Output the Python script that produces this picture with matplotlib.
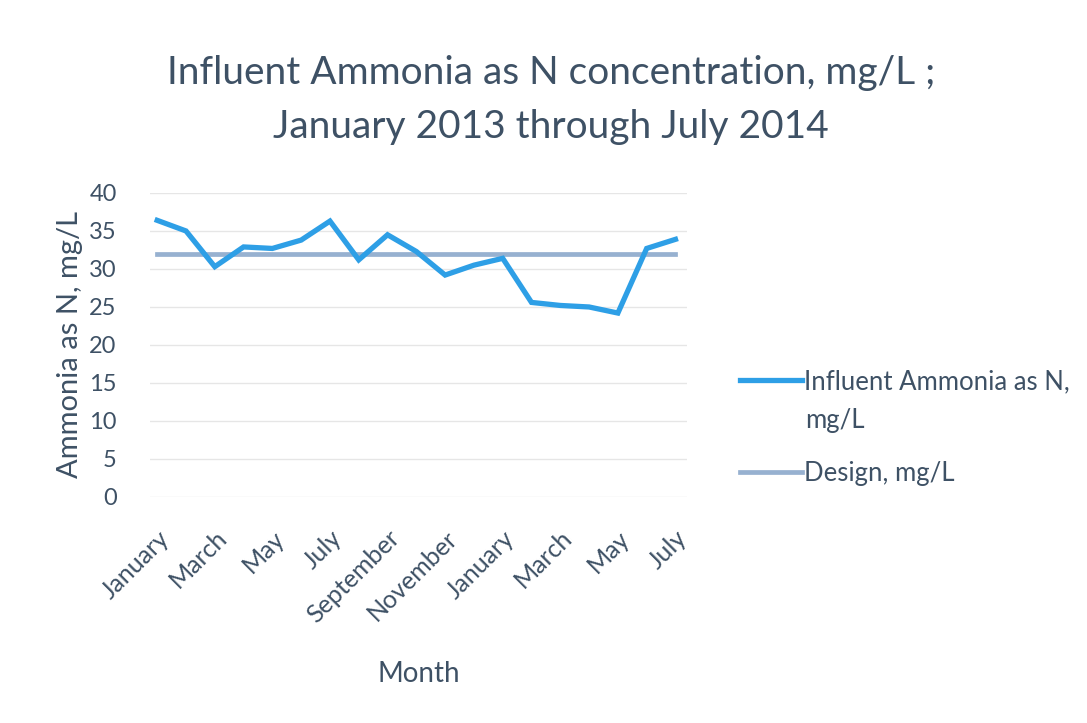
import numpy as np
import matplotlib.pyplot as plt
import matplotlib.transforms as mtransforms

plt.rcParams['font.family'] = ['Lato', 'DejaVu Sans']

# monthly data, Jan 2013 - Jul 2014
months = ['January', 'February', 'March', 'April', 'May', 'June', 'July',
          'August', 'September', 'October', 'November', 'December',
          'January', 'February', 'March', 'April', 'May', 'June', 'July']
influent = [36.4, 35.0, 30.3, 32.9, 32.7, 33.8, 36.3, 31.2, 34.5, 32.3,
            29.2, 30.5, 31.4, 25.6, 25.2, 25.0, 24.2, 32.7, 33.9]
design = [32.0] * len(months)
yticks = [0, 5, 10, 15, 20, 25, 30, 35, 40]

text_col = '#3E5165'

fig = plt.figure(figsize=(10.87, 7.23), dpi=100)
ax = fig.add_axes([0.138, 0.3126, 0.494, 0.4205])

x = np.arange(len(months))
ax.plot(x, influent, color='#2E9FE6', lw=3.8, solid_joinstyle='miter',
        label='Influent Ammonia as N,', zorder=3)
ax.plot(x, design, color='#97B1D0', lw=3.4, label='Design, mg/L', zorder=2)

ax.set_xlim(-0.25, 18.4)
ax.set_ylim(0, 40)
ax.set_yticks(yticks)
ax.set_yticklabels([str(v) for v in yticks], fontsize=17, color=text_col)
ax.set_xticks(x[::2])
ax.set_xticklabels(months[::2], rotation=45, ha='right', rotation_mode='anchor',
                   fontsize=18, color=text_col)
shift = mtransforms.ScaledTranslation(8 / 100, 0, fig.dpi_scale_trans)
for lbl in ax.get_xticklabels():
    lbl.set_transform(lbl.get_transform() + shift)
ax.tick_params(axis='both', length=0)
ax.tick_params(axis='y', pad=24)
ax.tick_params(axis='x', pad=21)

ax.grid(axis='y', color='#E6E6E6', lw=1)
ax.set_axisbelow(True)
for s in ax.spines.values():
    s.set_visible(False)

ax.set_ylabel('Ammonia as N, mg/L', fontsize=21, color=text_col, labelpad=4)
ax.set_xlabel('Month', fontsize=20, color=text_col, labelpad=24)

fig.text(0.507, 0.862, 'Influent Ammonia as N concentration, mg/L ;\nJanuary 2013 through July 2014',
         ha='center', va='center', fontsize=28, color=text_col, linespacing=1.62)

ax.legend(loc='upper left', bbox_to_anchor=(0.681, 0.489), bbox_transform=fig.transFigure,
          frameon=False, fontsize=18.5, handlelength=2.4, handletextpad=0.1,
          borderpad=0, borderaxespad=0, labelspacing=2.6, labelcolor=text_col)
# second line of the first legend label
fig.text(0.741, 0.419, 'mg/L', ha='left', va='center', fontsize=18.5, color=text_col)

fig.savefig('out.png', dpi=100, facecolor='white')
